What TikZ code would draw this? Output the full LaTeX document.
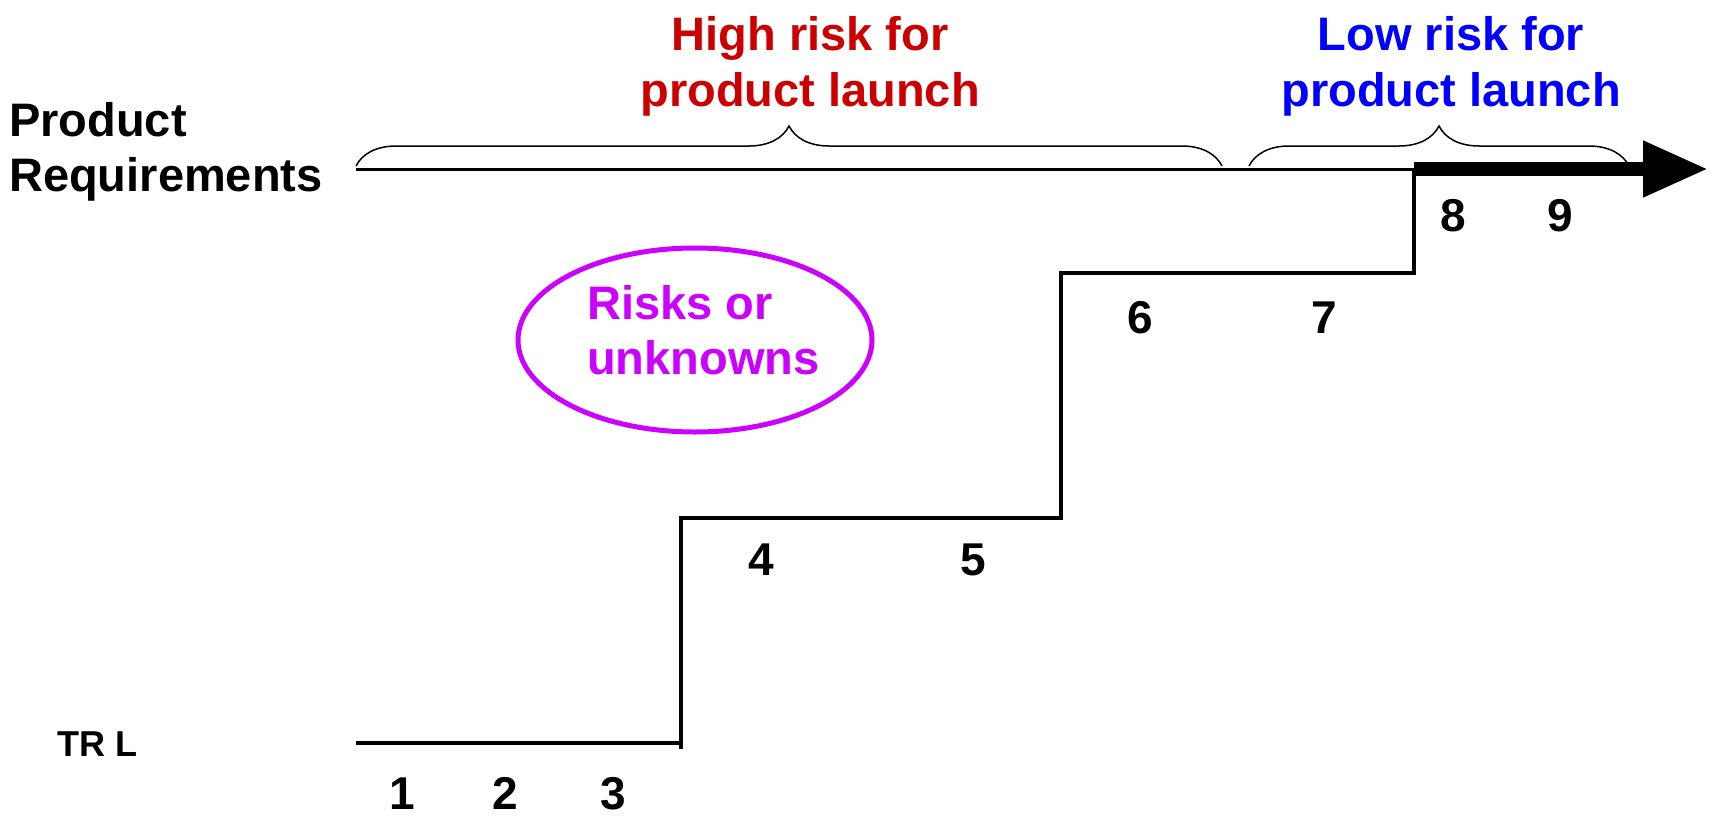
\documentclass[tikz,border=0pt]{standalone}
\usepackage{fontspec}
\setmainfont{Liberation Sans}
\usetikzlibrary{arrows.meta,decorations.pathreplacing,shapes.geometric}
\definecolor{hrisk}{RGB}{204,0,0}
\definecolor{lrisk}{RGB}{0,0,255}
\definecolor{unk}{RGB}{204,0,255}
\begin{document}
\begin{tikzpicture}[x=1pt,y=-1pt,
  lbl/.style={font=\fontsize{47}{55}\selectfont\bfseries, inner sep=0pt},
  num/.style={font=\fontsize{46}{50}\selectfont\bfseries, inner sep=0pt, anchor=base},
  stepline/.style={line width=3.5pt, line join=miter},
  bracestyle/.style={decorate, decoration={brace, amplitude=40pt}, line width=1.5pt}]
\useasboundingbox (0,0) rectangle (1711,817);

% headings
\node[lbl, text=hrisk, anchor=base] (h1) at (810,50) {High risk for};
\node[lbl, text=hrisk, anchor=base] (h2) at (810,106) {product launch};
\node[lbl, text=lrisk, anchor=base] (l1) at (1451,50) {Low risk for};
\node[lbl, text=lrisk, anchor=base] (l2) at (1451,106) {product launch};
\node[lbl, anchor=base west] (p1) at (9,136) {Product};
\node[lbl, anchor=base west] (p2) at (9,191) {Requirements};
\node[font=\fontsize{36}{40}\selectfont\bfseries, inner sep=0pt, anchor=base west] (trl) at (57,756) {TR L};

% braces
\coordinate (b1a) at (356,166);
\coordinate (b1b) at (1222,166);
\coordinate (b2a) at (1249,166);
\coordinate (b2b) at (1629,166);
\draw[bracestyle] (b1a) -- (b1b);
\draw[bracestyle] (b2a) -- (b2b);

% requirement line and arrow
\coordinate (r0) at (356,169);
\coordinate (r1) at (1414,169);
\coordinate (r2) at (1708,169);
\draw[line width=3pt] (r0) -- (r1);
\draw[line width=14pt, -{Triangle[length=65pt,width=53pt]}] (r1) -- (r2);

% TRL staircase
\coordinate (s0) at (356,743);
\coordinate (s1) at (681,743);
\coordinate (s1b) at (681,749);
\coordinate (s2) at (681,518);
\coordinate (s3) at (1061,518);
\coordinate (s4) at (1061,273);
\coordinate (s5) at (1414,273);
\coordinate (s6) at (1414,169);
\draw[stepline] (s0) -- (s1);
\draw[stepline] (s1b) -- (s2) -- (s3) -- (s4) -- (s5) -- (s6);

% TRL numbers
\node[num] (n1) at (402,809) {1};
\node[num] (n2) at (505,809) {2};
\node[num] (n3) at (613,809) {3};
\node[num] (n4) at (761,575) {4};
\node[num] (n5) at (973,575) {5};
\node[num] (n6) at (1140,333) {6};
\node[num] (n7) at (1324,333) {7};
\node[num] (n8) at (1453,231) {8};
\node[num] (n9) at (1560,231) {9};

% risks ellipse
\node[draw=unk, line width=5pt, ellipse, minimum width=354pt, minimum height=184pt] (ell) at (695,340) {};
\node[lbl, text=unk, anchor=base west] (u1) at (587,319) {Risks or};
\node[lbl, text=unk, anchor=base west] (u2) at (587,374) {unknowns};
\end{tikzpicture}
\end{document}
